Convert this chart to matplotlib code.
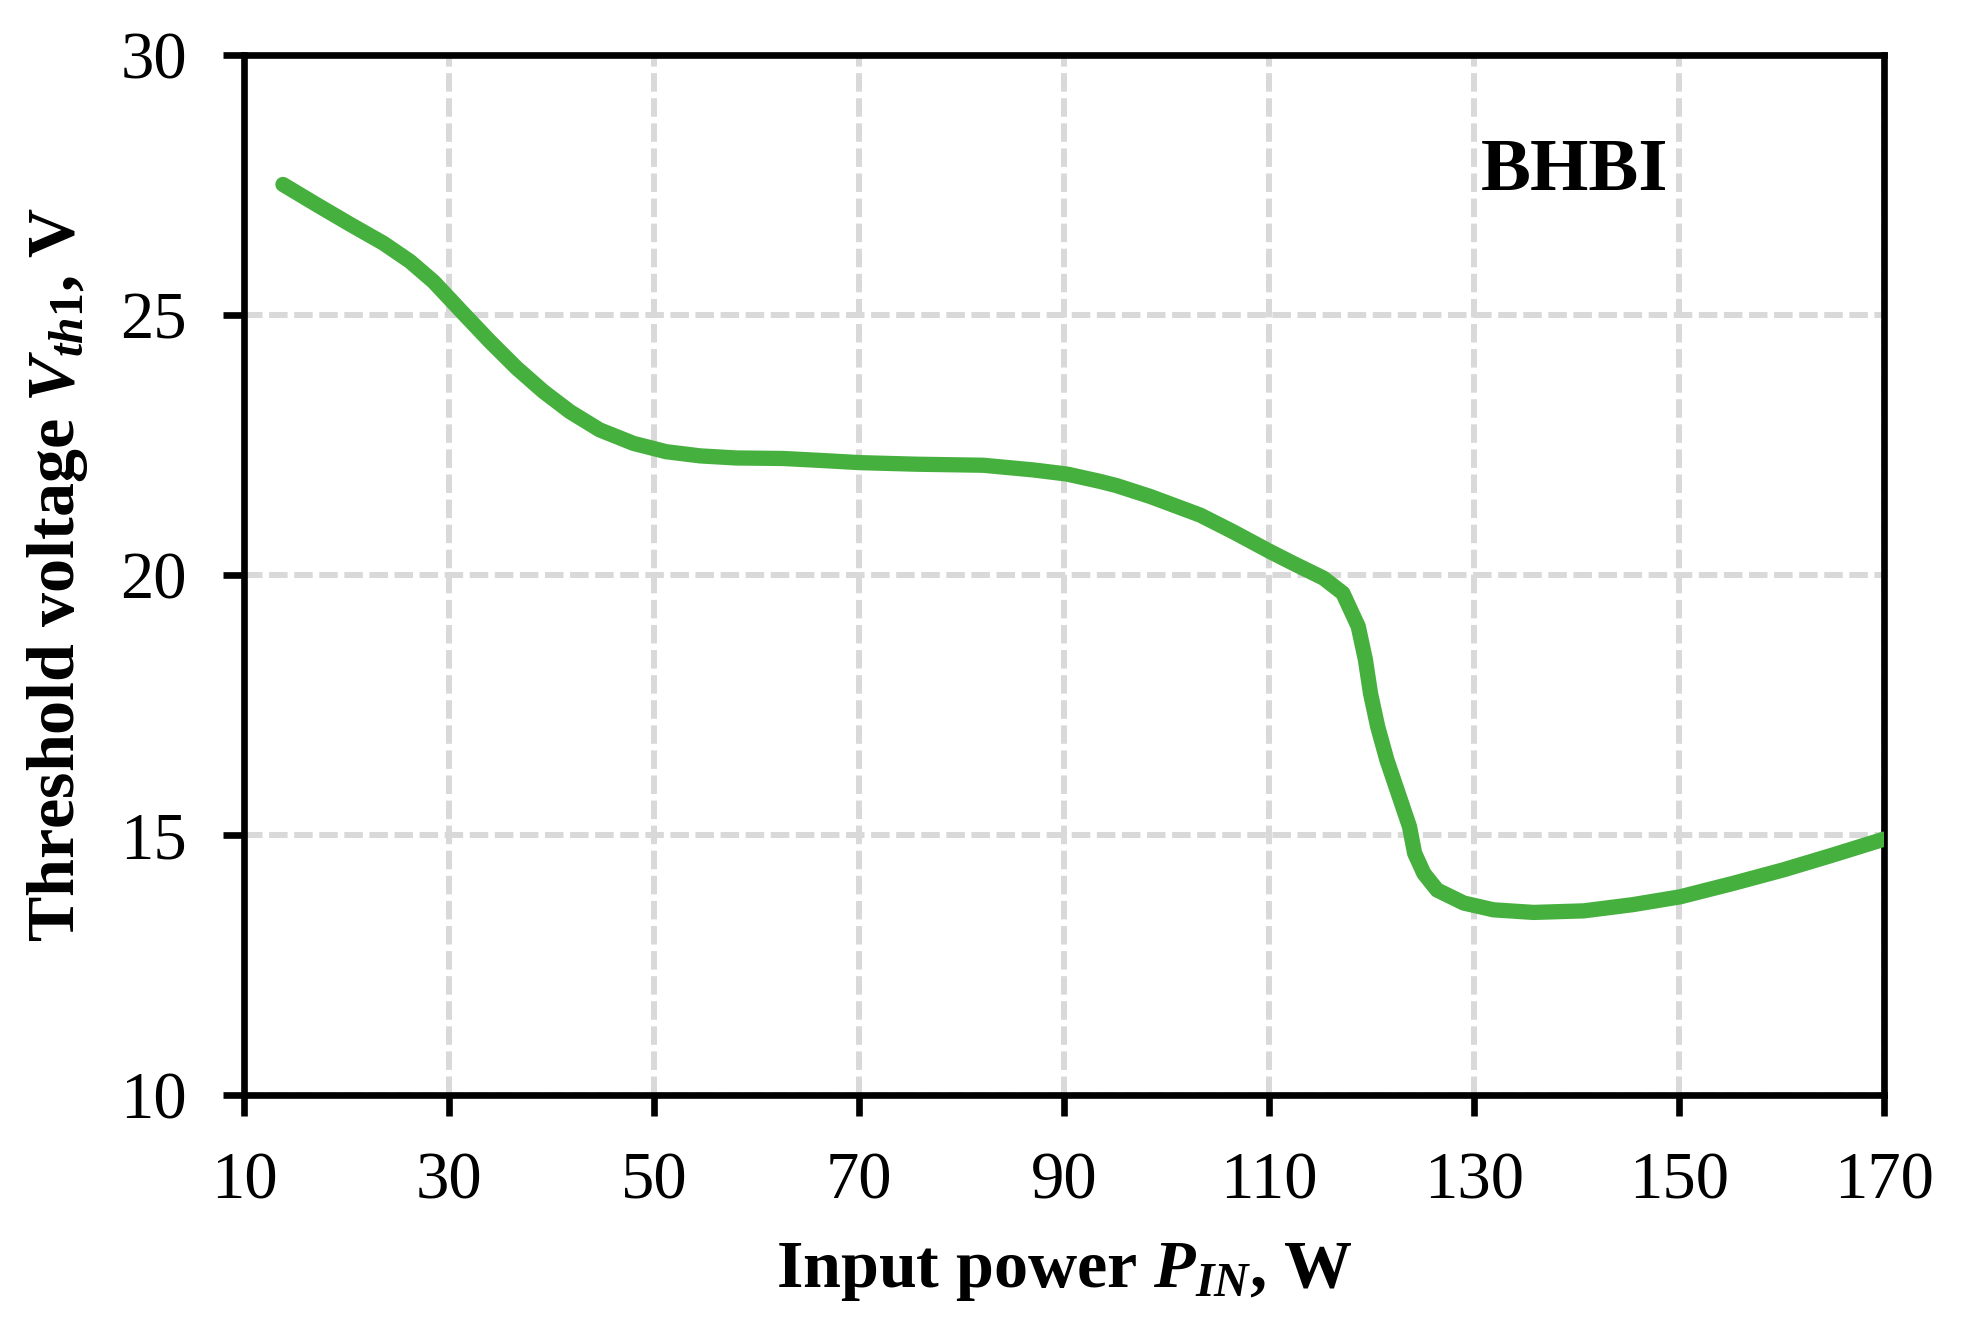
import numpy as np
import matplotlib.pyplot as plt

# values
p_in = [13.8, 17.1, 20.3, 23.6, 26.2, 28.5, 31.4, 34.0, 36.6, 39.2, 41.8, 44.7,
        48.0, 51.2, 54.5, 58.0, 62.6, 66.5, 70.1, 75.6, 82.1, 87.0, 90.3, 93.5,
        95.1, 98.4, 103.3, 106.5, 110.1, 112.4, 115.3, 117.2, 118.7, 119.4,
        119.9, 120.6, 121.5, 122.6, 123.7, 124.2, 125.1, 126.4, 129.0, 131.9,
        135.8, 140.7, 145.5, 150.1, 155.3, 160.2, 165.1, 170.0]
v_th1 = [27.51, 27.12, 26.75, 26.38, 26.03, 25.64, 25.03, 24.49, 23.98, 23.53,
         23.14, 22.79, 22.53, 22.37, 22.29, 22.25, 22.24, 22.20, 22.16, 22.13,
         22.11, 22.02, 21.94, 21.80, 21.72, 21.51, 21.15, 20.83, 20.45, 20.22,
         19.94, 19.65, 19.01, 18.37, 17.72, 17.08, 16.44, 15.80, 15.16, 14.65,
         14.26, 13.94, 13.69, 13.56, 13.51, 13.54, 13.66, 13.81, 14.07, 14.33,
         14.62, 14.92]

x_ticks = [10, 30, 50, 70, 90, 110, 130, 150, 170]
y_ticks = [10, 15, 20, 25, 30]

plt.rcParams['font.family'] = 'Liberation Serif'
plt.rcParams['mathtext.fontset'] = 'custom'
plt.rcParams['mathtext.rm'] = 'Liberation Serif:bold'
plt.rcParams['mathtext.it'] = 'Liberation Serif:bold:italic'
plt.rcParams['mathtext.bf'] = 'Liberation Serif:bold'

fig = plt.figure(figsize=(19.63, 13.28), dpi=100)
ax = fig.add_axes([0.1243, 0.1755, 0.8355, 0.7831])

ax.plot(p_in, v_th1, color='#46B03E', lw=11, solid_capstyle='round',
        solid_joinstyle='round', zorder=3)

ax.set_xlim(10, 170)
ax.set_ylim(10, 30)
ax.set_xticks(x_ticks)
ax.set_yticks(y_ticks)

ax.grid(True, color='#D9D9D9', lw=4.3, linestyle=(0, (3.1, 1.1)), zorder=0)
for s in ax.spines.values():
    s.set_linewidth(4.8)
    s.set_color('black')

ax.tick_params(axis='both', direction='out', length=15, width=4.8,
               labelsize=48, pad=26)

ax.set_xlabel(r'Input power $P_{IN}$, W', fontsize=49, fontweight='bold', labelpad=20)
ax.set_ylabel(r'Threshold voltage $V_{th1}$, V', fontsize=49, fontweight='bold', labelpad=22)

ax.text(0.811, 0.8875, 'BHBI', transform=ax.transAxes, fontsize=54,
        fontweight='bold', ha='center', va='center')

fig.savefig('out.png', dpi=100)
